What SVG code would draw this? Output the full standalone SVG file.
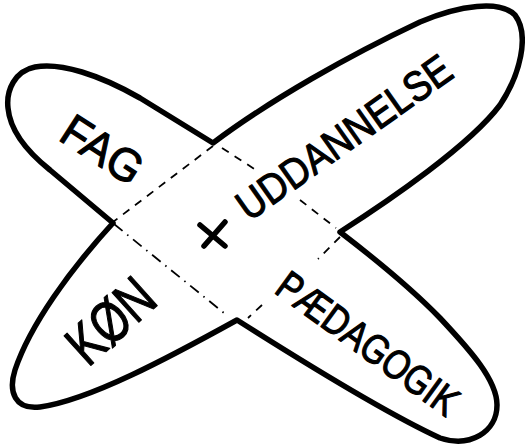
<svg xmlns="http://www.w3.org/2000/svg" width="525" height="446" viewBox="0 0 525 446">
<style>
.outline{fill:none;stroke:#000;stroke-width:5.5;stroke-linejoin:round;stroke-linecap:round}
.dash{fill:none;stroke:#000;stroke-width:1.8;stroke-dasharray:8 7}
.dashdot{fill:none;stroke:#000;stroke-width:1.8;stroke-dasharray:11 6 1.5 6}
.lbl{font-family:"Liberation Sans","DejaVu Sans",sans-serif;fill:#000;stroke:#000;stroke-width:1.2;stroke-linejoin:round}
.plus{fill:none;stroke:#000;stroke-width:5.5;stroke-linecap:round}
</style>
<rect width="525" height="446" fill="#fff"/>
<g id="outline">
<path class="outline" d="M213,143 L140,98 C100,75 60,62 35,67 C15,71 6,90 8,108 C10,130 25,150 50,170 L113,223 C70,270 30,325 15,370 C8,392 15,410 40,407 C90,400 170,357 237,320 C300,360 390,415 440,438 C470,448 497,432 497,405 C497,380 470,350 440,318 C410,287 370,255 340,232 C390,200 470,145 500,105 C520,75 530,35 515,15 C500,0 460,5 420,22 C350,55 270,100 213,143 Z"/>
</g>
<g id="connectors">
<line class="dash" x1="213" y1="146" x2="113" y2="222"/>
<line class="dash" x1="222" y1="148" x2="256" y2="170"/>
<line class="dash" x1="300" y1="200" x2="336" y2="228"/>
<line class="dashdot" x1="114" y1="224" x2="224" y2="313"/>
<line class="dash" x1="340" y1="237" x2="318" y2="259"/>
<line class="dash" x1="262" y1="305" x2="248" y2="318"/>
</g>
<g id="node-fag">
<text class="lbl" x="57" y="139" font-size="46" textLength="88" lengthAdjust="spacingAndGlyphs" transform="rotate(33 57 139)">FAG</text>
</g>
<g id="node-uddannelse">
<text class="lbl" x="249" y="222" font-size="42" textLength="253" lengthAdjust="spacingAndGlyphs" transform="rotate(-35.2 249 222)">UDDANNELSE</text>
</g>
<g id="node-kon">
<text class="lbl" x="88" y="368" font-size="58" textLength="97" lengthAdjust="spacingAndGlyphs" transform="rotate(-42 88 368)">KØN</text>
</g>
<g id="node-paedagogik">
<text class="lbl" x="273" y="292" font-size="41" textLength="214" lengthAdjust="spacingAndGlyphs" transform="rotate(36 273 292)">PÆDAGOGIK</text>
</g>
<g id="node-plus">
<path class="plus" d="M200,225 L225,246 M225,222 L204,246"/>
</g>
</svg>
